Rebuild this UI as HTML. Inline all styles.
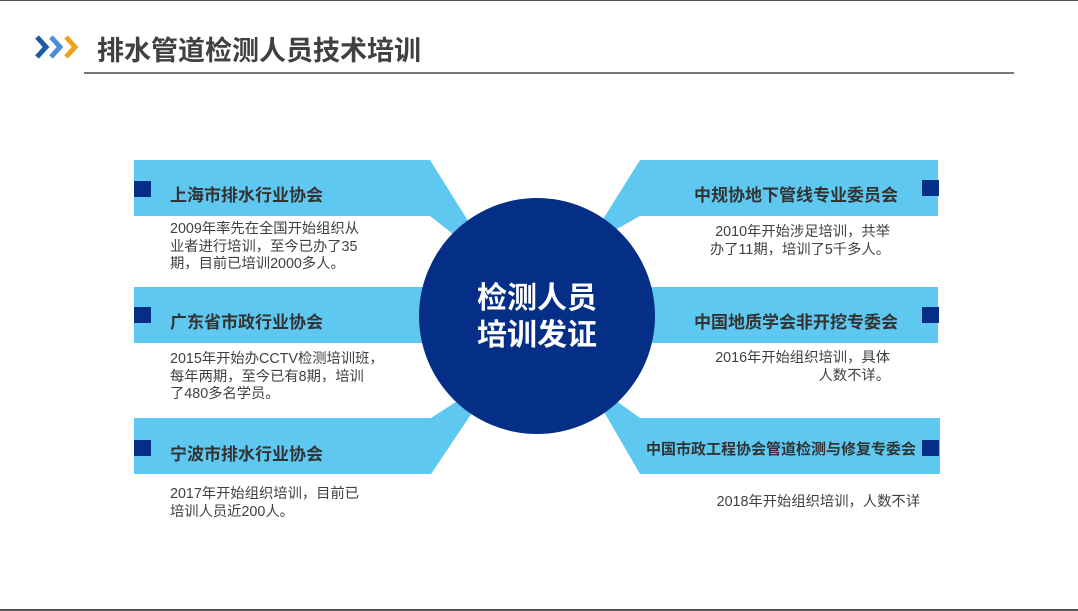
<!DOCTYPE html>
<html><head><meta charset="utf-8">
<style>
html,body{margin:0;padding:0;}
body{width:1078px;height:611px;position:relative;overflow:hidden;background:#fff;font-family:"Liberation Sans","Noto Sans CJK SC",sans-serif;}
.t{position:absolute;white-space:nowrap;}
.h{font-weight:bold;font-size:17px;color:#333;}
.b{font-size:14.3px;color:#404040;line-height:17.5px;}
</style></head><body>
<div style="position:absolute;left:0;top:0;width:1078px;height:1px;background:#555"></div>
<div style="position:absolute;left:0;top:609px;width:1078px;height:2px;background:#555"></div>
<svg width="1078" height="611" style="position:absolute;left:0;top:0">
  <polyline points="37,37 46,47 37,57" fill="none" stroke="#1e5aa0" stroke-width="5"/>
  <polyline points="51,37 60,47 51,57" fill="none" stroke="#4a90d9" stroke-width="5"/>
  <polyline points="66,37 75,47 66,57" fill="none" stroke="#f5a01e" stroke-width="5"/>
  <rect x="84" y="72" width="930" height="2" fill="#777"/>
  <g fill="#5ec8f0">
    <polygon points="134,160 430,160 475,232 458,238 430,216 134,216"/>
    <rect x="134" y="287" width="300" height="56"/>
    <polygon points="134,418 431,418 462,398 478,404 431,474 134,474"/>
    <polygon points="640,160 938,160 938,216 640,216 615,230 600,224"/>
    <rect x="640" y="287" width="298" height="56"/>
    <polygon points="600,405 615,400 640,418 940,418 940,474 640,474"/>
  </g>
  <circle cx="537" cy="316" r="118" fill="#052f86"/>
  <g fill="#052f86">
    <rect x="134" y="181" width="17" height="16"/>
    <rect x="134" y="307" width="17" height="16"/>
    <rect x="134" y="440" width="17" height="16"/>
    <rect x="922" y="180" width="17" height="16"/>
    <rect x="922" y="307" width="17" height="16"/>
    <rect x="922" y="440" width="17" height="16"/>
  </g>
</svg>
<div class="t" style="left:97px;top:29px;font-size:27px;font-weight:bold;color:#404040;">排水管道检测人员技术培训</div>
<div class="t" style="left:437px;top:280px;width:200px;text-align:center;font-size:30px;font-weight:bold;color:#fff;line-height:37px;">检测人员<br>培训发证</div>

<div class="t h" style="left:170px;top:181px;">上海市排水行业协会</div>
<div class="t b" style="left:170px;top:221px;">2009年率先在全国开始组织从<br>业者进行培训，至今已办了35<br>期，目前已培训2000多人。</div>
<div class="t h" style="left:170px;top:308px;">广东省市政行业协会</div>
<div class="t b" style="left:170px;top:351px;">2015年开始办CCTV检测培训班，<br>每年两期，至今已有8期，培训<br>了480多名学员。</div>
<div class="t h" style="left:170px;top:440px;">宁波市排水行业协会</div>
<div class="t b" style="left:170px;top:486px;">2017年开始组织培训，目前已<br>培训人员近200人。</div>

<div class="t h" style="left:678px;top:181px;width:220px;text-align:right;">中规协地下管线专业委员会</div>
<div class="t b" style="left:660px;top:224px;width:230px;text-align:right;">2010年开始涉足培训，共举<br>办了11期，培训了5千多人。</div>
<div class="t h" style="left:678px;top:308px;width:220px;text-align:right;">中国地质学会非开挖专委会</div>
<div class="t b" style="left:660px;top:350px;width:230px;text-align:right;">2016年开始组织培训，具体<br>人数不详。</div>
<div class="t" style="left:646px;top:438px;font-size:15px;font-weight:bold;color:#333;">中国市政工程协会管道检测与修复专委会</div>
<div class="t b" style="left:680px;top:494px;width:240px;text-align:right;">2018年开始组织培训，人数不详</div>
</body></html>
